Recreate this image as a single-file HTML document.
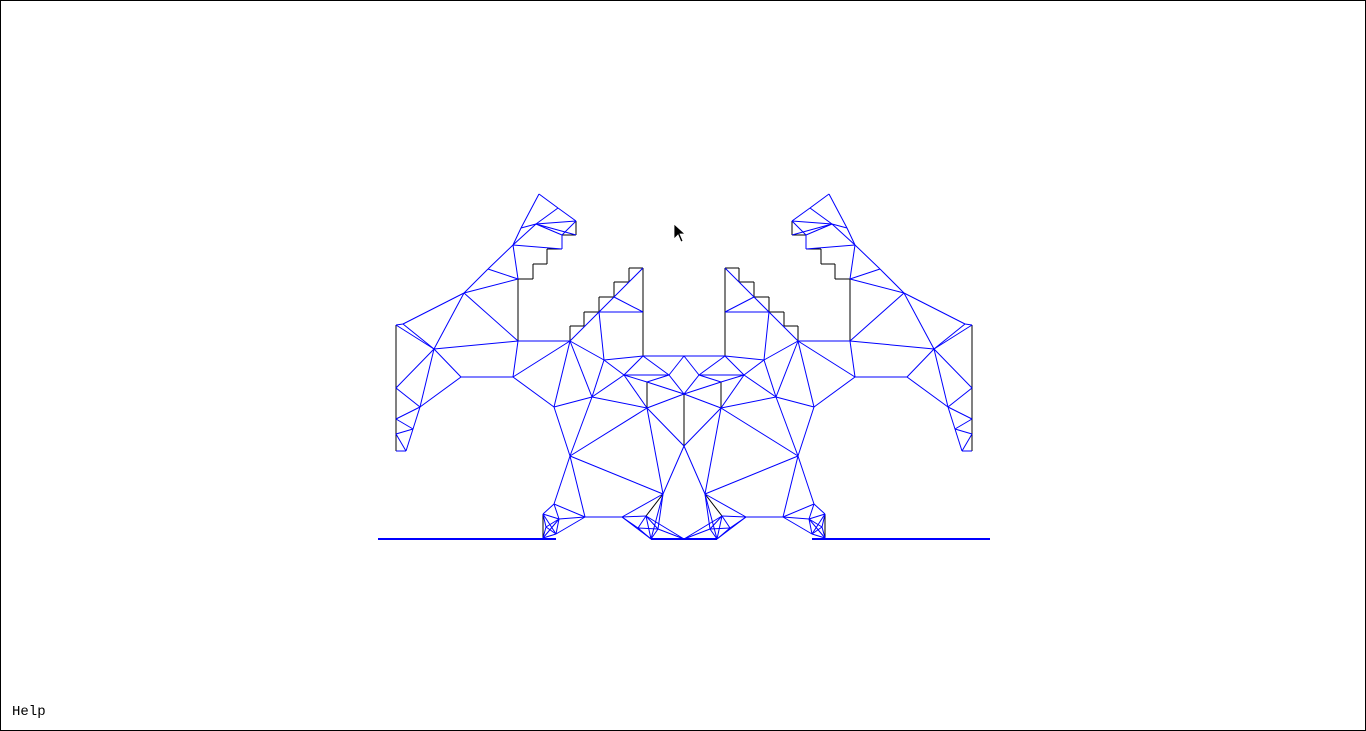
<!DOCTYPE html>
<html><head><meta charset="utf-8"><style>
html,body{margin:0;padding:0;background:#fff;}
#frame{position:absolute;left:0;top:0;width:1364px;height:729px;border:1px solid #000;overflow:hidden;}
#help{position:absolute;left:11px;top:703px;font-family:"Liberation Mono","Courier New",monospace;font-size:14px;color:#000;}
svg{position:absolute;left:0;top:0;}
</style></head><body>
<div id="frame">
<svg id="mesh" width="1366" height="731"></svg>
<div id="help">Help</div>
</div>
<script>
const nodeNames=["A","B","C","D","E","F","G","H","I","J","K","L","M","N","O","P","Q","R","S","T","U","V","W","X","Y","Z","a","b","c","d","e","f","g","h","i","j","k","l","m","n","o","p","q","r","s","t","v","w","x","y","z","u","AA","BB","CC","DD","EE","FF","GG","HH","II","JJ","KK","LL","MM","NN","OO"];
const nodeX=[538,557,575,575,561,561,546,546,532,532,517,535,520,512,487,463,517,402,395,395,405,433,460,512,395,419,412,395,395,569,553,591,603,569,583,583,598,598,613,613,628,628,642,642,642,623,668,646,683,646,683,683,569,662,553,542,542,584,621,645,650,683,558,555,657,637,545];
const nodeY=[193,207,220,234,234,248,248,263,263,278,278,223,227,244,268,292,340,323,324,450,450,348,376,376,387,406,428,418,433,340,406,396,359,325,325,311,311,296,296,281,281,267,267,311,355,374,374,381,393,407,445,355,455,493,503,513,537,516,516,515,538,538,518,533,528,527,526];
const blueEdges=["A-B","B-C","C-E","A-M","M-N","L-M","L-B","L-C","L-E","L-N","N-F","F-E","N-K","N-O","O-K","O-P","P-K","P-Q","P-R","R-S","T-U","P-V","R-V","S-V","V-Q","V-W","W-X","X-Q","V-Z","Y-V","Y-Z","Z-b","b-a","a-c","c-U","a-U","Z-a","W-Z","Q-d","X-d","X-e","d-e","d-f","e-f","d-g","g-f","d-k","k-m","m-o","o-q","m-r","k-r","k-g","g-s","g-t","t-f","f-y","t-s","s-v","u-v","t-w","t-v","v-w","v-x","w-x","x-y","t-y","y-z","e-AA","f-AA","AA-y","AA-BB","AA-CC","AA-FF","CC-FF","CC-DD","DD-KK","CC-KK","KK-FF","KK-LL","LL-EE","FF-LL","BB-y","BB-z","BB-GG","GG-HH","GG-II","HH-II","FF-GG","HH-JJ","BB-II","s-u","DD-LL","KK-EE","OO-DD","OO-KK","OO-LL","OO-EE","HH-MM","MM-II","MM-JJ","MM-BB","NN-GG","NN-HH","NN-II","NN-MM","L-D"];
const blackEdges=["C-D","D-E","F-G","G-H","H-I","I-J","J-K","K-Q","S-T","h-i","i-j","j-k","k-l","l-m","m-n","n-o","o-p","p-q","q-r","r-s","d-h","w-y","x-z","BB-HH","DD-EE"];
const svg=document.getElementById('mesh');
const NS="http://www.w3.org/2000/svg";
function pt(n){const i=nodeNames.indexOf(n);return [nodeX[i],nodeY[i]];}
function line(x1,y1,x2,y2,col,w,name){
  const l=document.createElementNS(NS,'line');
  l.setAttribute('x1',x1);l.setAttribute('y1',y1);l.setAttribute('x2',x2);l.setAttribute('y2',y2);
  l.setAttribute('stroke',col);l.setAttribute('stroke-width',w);
  
  
  svg.appendChild(l);
}
function draw(list,col,name){
  list.forEach(e=>{
    const [p,q]=e.split('-');const a=pt(p),b=pt(q);
    line(a[0],a[1],b[0],b[1],col,1,name);
    line(1366-a[0],a[1],1366-b[0],b[1],col,1,name);
  });
}
draw(blackEdges,'#000','boundary-edge');
draw(blueEdges,'#0000ff','mesh-edge');
line(377,538,555,538,'#0000ff',2,'ground-line-left');
line(811,538,989,538,'#0000ff',2,'ground-line-right');
line(650,538,716,538,'#0000ff',2,'ground-line-center');
const cur=document.createElementNS(NS,'polygon');
cur.setAttribute('points','673,223 673,238 677,234 680,241 682,240 679,233 684,233');
cur.setAttribute('fill','#000');cur.setAttribute('stroke','#fff');cur.setAttribute('stroke-width','0.8');


svg.appendChild(cur);
</script>
</body></html>
